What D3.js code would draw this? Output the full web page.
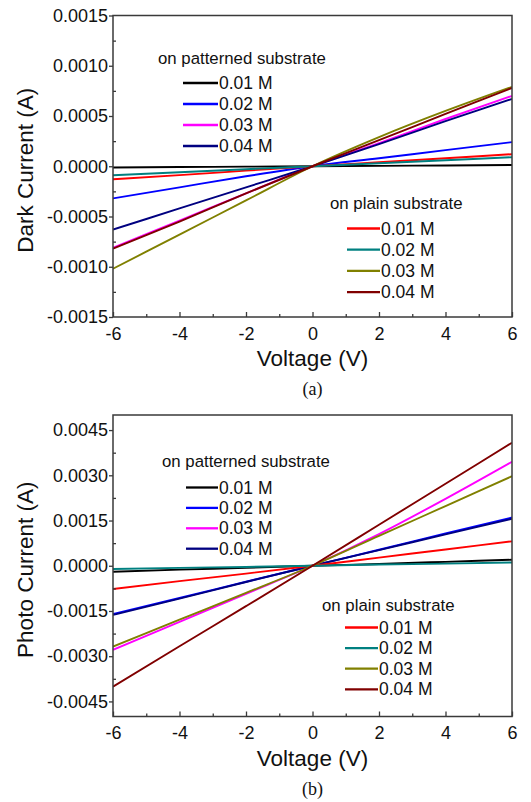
<!DOCTYPE html>
<html>
<head>
<meta charset="utf-8">
<script src="https://cdn.jsdelivr.net/npm/d3@7"></script>
<style>
  html, body { margin: 0; padding: 0; background: #fff; }
  svg { display: block; }
  text { font-family: "Liberation Sans", Arial, sans-serif; fill: #111; }
</style>
</head>
<body>
<svg id="chart" width="531" height="802"></svg>
<script>
// ---------------- data ----------------
const voltage = [-6, -4, -2, 0, 2, 4, 6];
const concentrations = ["0.01 M", "0.02 M", "0.03 M", "0.04 M"];
const xTicks = [-6, -4, -2, 0, 2, 4, 6];
const xMinorTicks = [-5, -3, -1, 1, 3, 5];

// (a) dark current, A
const darkPatterned = [
  [-0.000012, -0.000008, -0.000004, 0, 0.000004, 0.000008, 0.000012],
  [-0.00032, -0.00021, -0.00010, 0, 0.00008, 0.00016, 0.00024],
  [-0.00081, -0.00054, -0.00027, 0, 0.00023, 0.00047, 0.00070],
  [-0.00063, -0.00042, -0.00021, 0, 0.00022, 0.00045, 0.00067]
];
const darkPlain = [
  [-0.00013, -0.000088, -0.000044, 0, 0.00004, 0.00008, 0.00012],
  [-0.00009, -0.00006, -0.00003, 0, 0.00003, 0.00006, 0.00009],
  [-0.00102, -0.00068, -0.00034, 0, 0.00029, 0.00055, 0.00079],
  [-0.00082, -0.00055, -0.00027, 0, 0.00026, 0.00052, 0.00078]
];
const darkTicks = [-0.0015, -0.0010, -0.0005, 0, 0.0005, 0.0010, 0.0015];
const darkMinorTicks = [-0.00125, -0.00075, -0.00025, 0.00025, 0.00075, 0.00125];

// (b) photo current, A
const photoPatterned = [
  [-0.00020, -0.00013, -0.00007, 0, 0.00006, 0.00013, 0.00020],
  [-0.00160, -0.00107, -0.00053, 0, 0.00053, 0.00107, 0.00160],
  [-0.00279, -0.00186, -0.00093, 0, 0.00105, 0.00222, 0.00345],
  [-0.00163, -0.00109, -0.00054, 0, 0.00052, 0.00104, 0.00156]
];
const photoPlain = [
  [-0.00077, -0.00051, -0.00026, 0, 0.00027, 0.00054, 0.00081],
  [-0.00011, -0.00007, -0.00004, 0, 0.00004, 0.00007, 0.00011],
  [-0.00268, -0.00179, -0.00090, 0, 0.00099, 0.00198, 0.00297],
  [-0.00401, -0.00267, -0.00134, 0, 0.00136, 0.00272, 0.00408]
];
const photoTicks = [-0.0045, -0.0030, -0.0015, 0, 0.0015, 0.0030, 0.0045];
const photoMinorTicks = [-0.00375, -0.00225, -0.00075, 0.00075, 0.00225, 0.00375];

// ---------------- styles ----------------
const patternedColors = ["#000000", "#0000ff", "#ff00ff", "#000080"];
const plainColors = ["#ff0000", "#008080", "#808000", "#800000"];

const loc = d3.formatLocale({decimal: ".", thousands: ",", grouping: [3], currency: ["", ""], minus: "-"});
const yFmt = loc.format(".4f");
const xFmt = loc.format("d");

const svg = d3.select("#chart");

function panel(cfg) {
  const x = d3.scaleLinear().domain([-6, 6]).range([cfg.left, cfg.right]);
  const y = d3.scaleLinear().domain(cfg.yDomain).range([cfg.bottom, cfg.top]);
  const g = svg.append("g");

  // series
  const line = d3.line()
    .x((d, i) => x(voltage[i]))
    .y(d => y(d))
    .curve(d3.curveMonotoneX);
  const clipId = "clip" + cfg.name;
  svg.append("clipPath").attr("id", clipId).append("rect")
    .attr("x", cfg.left).attr("y", cfg.top)
    .attr("width", cfg.right - cfg.left).attr("height", cfg.bottom - cfg.top);
  const series = g.append("g").attr("clip-path", `url(#${clipId})`);
  cfg.patterned.forEach((vals, i) => {
    series.append("path").datum(vals).attr("d", line)
      .attr("fill", "none").attr("stroke", patternedColors[i]).attr("stroke-width", 1.9);
  });
  cfg.plain.forEach((vals, i) => {
    series.append("path").datum(vals).attr("d", line)
      .attr("fill", "none").attr("stroke", plainColors[i]).attr("stroke-width", 1.9);
  });

  // frame
  g.append("rect")
    .attr("x", cfg.left).attr("y", cfg.top)
    .attr("width", cfg.right - cfg.left).attr("height", cfg.bottom - cfg.top)
    .attr("fill", "none").attr("stroke", "#3a3a3a").attr("stroke-width", 1.5);

  // x axis (ticks inward)
  const xa = g.append("g").attr("transform", `translate(0,${cfg.bottom})`)
    .call(d3.axisBottom(x).tickValues(xTicks).tickFormat(xFmt).tickSizeInner(-5).tickSizeOuter(0).tickPadding(10));
  xa.select(".domain").remove();
  xa.selectAll("line").attr("stroke", "#3a3a3a").attr("stroke-width", 1.3);
  xa.selectAll("text").attr("font-size", 18).attr("font-family", "Liberation Sans, Arial, sans-serif").attr("fill", "#111");
  const xm = g.append("g").attr("transform", `translate(0,${cfg.bottom})`)
    .call(d3.axisBottom(x).tickValues(xMinorTicks).tickFormat("").tickSizeInner(-3).tickSizeOuter(0));
  xm.select(".domain").remove();
  xm.selectAll("line").attr("stroke", "#3a3a3a").attr("stroke-width", 1.3);

  // y axis
  const ya = g.append("g").attr("transform", `translate(${cfg.left},0)`)
    .call(d3.axisLeft(y).tickValues(cfg.yTicks).tickFormat(yFmt).tickSizeInner(4).tickSizeOuter(0).tickPadding(1));
  ya.select(".domain").remove();
  ya.selectAll("line").attr("stroke", "#3a3a3a").attr("stroke-width", 1.3);
  ya.selectAll("text").attr("font-size", 18).attr("font-family", "Liberation Sans, Arial, sans-serif").attr("fill", "#111");
  const ym = g.append("g").attr("transform", `translate(${cfg.left},0)`)
    .call(d3.axisLeft(y).tickValues(cfg.yMinor).tickFormat("").tickSizeInner(-3).tickSizeOuter(0));
  ym.select(".domain").remove();
  ym.selectAll("line").attr("stroke", "#3a3a3a").attr("stroke-width", 1.3);

  // titles
  const cx = (cfg.left + cfg.right) / 2;
  g.append("text").attr("x", cx).attr("y", cfg.bottom + 49)
    .attr("text-anchor", "middle").attr("font-size", 22.5).text("Voltage (V)");
  g.append("text")
    .attr("transform", `translate(33,${(cfg.top + cfg.bottom) / 2 + 4}) rotate(-90)`)
    .attr("text-anchor", "middle").attr("font-size", 22.5).text(cfg.yTitle);
  g.append("text").attr("x", cx).attr("y", cfg.bottom + 78)
    .attr("text-anchor", "middle").attr("font-size", 18)
    .style("font-family", "'Liberation Serif', 'Times New Roman', serif")
    .text(cfg.caption);

  // legends
  function legend(L, title, colors) {
    g.append("text").attr("x", L.titleX).attr("y", L.titleY)
      .attr("font-size", 16.8).text(title);
    concentrations.forEach((c, i) => {
      const ly = L.y0 + i * L.dy;
      g.append("line").attr("x1", L.x1).attr("x2", L.x2).attr("y1", ly).attr("y2", ly)
        .attr("stroke", colors[i]).attr("stroke-width", 2.3);
      g.append("text").attr("x", L.x2 + 1).attr("y", ly + 6)
        .attr("font-size", 17.5).text(c);
    });
  }
  legend(cfg.legP, "on patterned substrate", patternedColors);
  legend(cfg.legL, "on plain substrate", plainColors);
}

panel({
  name: "a", left: 113, right: 512, top: 15.5, bottom: 317,
  yDomain: [-0.0015, 0.0015], yTicks: darkTicks, yMinor: darkMinorTicks,
  patterned: darkPatterned, plain: darkPlain,
  yTitle: "Dark Current (A)", caption: "(a)",
  legP: {titleX: 158, titleY: 64, x1: 183, x2: 218, y0: 83, dy: 21},
  legL: {titleX: 330, titleY: 209, x1: 347, x2: 380, y0: 228.5, dy: 21.2}
});

panel({
  name: "b", left: 113, right: 512, top: 415, bottom: 716.5,
  yDomain: [-0.005, 0.005], yTicks: photoTicks, yMinor: photoMinorTicks,
  patterned: photoPatterned, plain: photoPlain,
  yTitle: "Photo Current (A)", caption: "(b)",
  legP: {titleX: 162, titleY: 467, x1: 186, x2: 218, y0: 487.5, dy: 20.4},
  legL: {titleX: 322, titleY: 611, x1: 345, x2: 378, y0: 627.5, dy: 20.6}
});
</script>
</body>
</html>
